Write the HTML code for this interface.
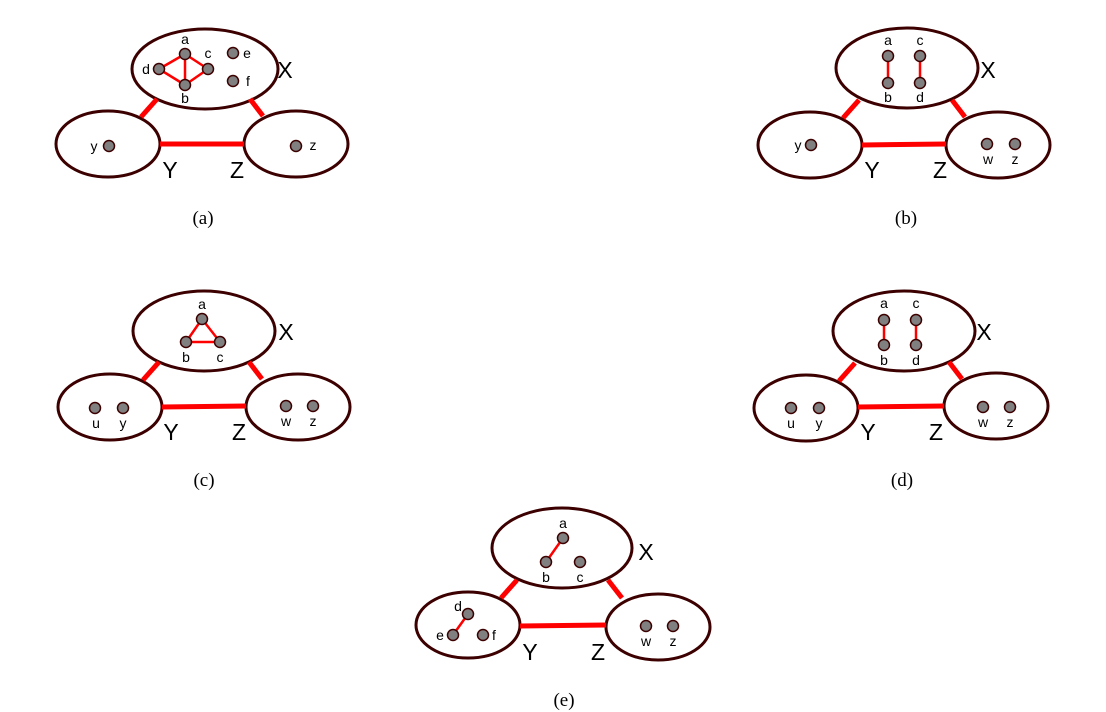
<!DOCTYPE html>
<html><head><style>body{margin:0;background:#fff}svg{display:block}</style></head><body>
<svg width="1106" height="712" viewBox="0 0 1106 712" xmlns="http://www.w3.org/2000/svg" font-family="Liberation Sans, sans-serif">
<g fill="#fff" stroke="#3c0000" stroke-width="3">
<ellipse cx="205" cy="69" rx="73" ry="40"/><ellipse cx="108" cy="144" rx="52" ry="33"/><ellipse cx="296" cy="144" rx="52" ry="33"/>
<ellipse cx="907" cy="68" rx="71" ry="40"/><ellipse cx="810" cy="145" rx="52" ry="33"/><ellipse cx="998" cy="145" rx="52" ry="33"/>
<ellipse cx="204" cy="331" rx="71" ry="40"/><ellipse cx="110" cy="407" rx="52" ry="33"/><ellipse cx="298" cy="407" rx="52" ry="33"/>
<ellipse cx="904" cy="331" rx="71" ry="40"/><ellipse cx="806" cy="408" rx="52" ry="33"/><ellipse cx="996" cy="406" rx="52" ry="33"/>
<ellipse cx="562" cy="548" rx="70" ry="40"/><ellipse cx="468" cy="625" rx="52" ry="33"/><ellipse cx="658" cy="627" rx="52" ry="33"/>
</g>
<g stroke="#f00" stroke-width="5">
<line x1="141" y1="117" x2="157" y2="99"/><line x1="250" y1="99" x2="263" y2="116"/><line x1="160" y1="144" x2="244" y2="144"/>
<line x1="843" y1="118" x2="859" y2="100"/><line x1="952" y1="100" x2="965" y2="117"/><line x1="862" y1="145" x2="946" y2="144"/>
<line x1="143" y1="380" x2="159" y2="362"/><line x1="249" y1="362" x2="262" y2="379"/><line x1="162" y1="407" x2="246" y2="406"/>
<line x1="839" y1="381" x2="855" y2="363"/><line x1="949" y1="362" x2="962" y2="379"/><line x1="858" y1="407" x2="944" y2="406"/>
<line x1="501" y1="598" x2="517" y2="580"/><line x1="608" y1="580" x2="622" y2="598"/><line x1="520" y1="626" x2="606" y2="625"/>
</g>
<g stroke="#f00" stroke-width="2.5">
<line x1="159" y1="69" x2="185" y2="54"/><line x1="159" y1="69" x2="185" y2="85"/><line x1="185" y1="54" x2="185" y2="85"/><line x1="185" y1="54" x2="208" y2="69"/><line x1="208" y1="69" x2="185" y2="85"/>
<line x1="888" y1="56" x2="888" y2="83"/><line x1="920" y1="56" x2="920" y2="83"/>
<line x1="202" y1="319" x2="186" y2="342"/><line x1="202" y1="319" x2="220" y2="342"/><line x1="186" y1="342" x2="220" y2="342"/>
<line x1="884" y1="320" x2="884" y2="345"/><line x1="916" y1="320" x2="916" y2="345"/>
<line x1="563" y1="538" x2="546" y2="562"/><line x1="468" y1="614" x2="453" y2="635"/>
</g>
<g fill="#808080" stroke="#3c0000" stroke-width="1.5">
<circle cx="185" cy="54" r="5.5"/><circle cx="208" cy="69" r="5.5"/><circle cx="159" cy="69" r="5.5"/><circle cx="185" cy="85" r="5.5"/><circle cx="233" cy="53" r="5.5"/><circle cx="233" cy="81" r="5.5"/><circle cx="109" cy="146" r="5.5"/><circle cx="296" cy="146" r="5.5"/>
<circle cx="888" cy="56" r="5.5"/><circle cx="888" cy="83" r="5.5"/><circle cx="920" cy="56" r="5.5"/><circle cx="920" cy="83" r="5.5"/><circle cx="811" cy="145" r="5.5"/><circle cx="987" cy="144" r="5.5"/><circle cx="1015" cy="144" r="5.5"/>
<circle cx="202" cy="319" r="5.5"/><circle cx="186" cy="342" r="5.5"/><circle cx="220" cy="342" r="5.5"/><circle cx="95" cy="408" r="5.5"/><circle cx="123" cy="408" r="5.5"/><circle cx="286" cy="406" r="5.5"/><circle cx="313" cy="406" r="5.5"/>
<circle cx="884" cy="320" r="5.5"/><circle cx="884" cy="345" r="5.5"/><circle cx="916" cy="320" r="5.5"/><circle cx="916" cy="345" r="5.5"/><circle cx="791" cy="408" r="5.5"/><circle cx="819" cy="408" r="5.5"/><circle cx="983" cy="407" r="5.5"/><circle cx="1010" cy="407" r="5.5"/>
<circle cx="563" cy="538" r="5.5"/><circle cx="546" cy="562" r="5.5"/><circle cx="580" cy="562" r="5.5"/><circle cx="468" cy="614" r="5.5"/><circle cx="453" cy="635" r="5.5"/><circle cx="483" cy="635" r="5.5"/><circle cx="646" cy="626" r="5.5"/><circle cx="673" cy="626" r="5.5"/>
</g>
<g font-size="14" fill="#000" text-anchor="middle">
<text x="185" y="44">a</text><text x="208" y="58">c</text><text x="146" y="74">d</text><text x="185" y="103">b</text><text x="247" y="58">e</text><text x="248" y="86">f</text><text x="94" y="151">y</text><text x="313" y="150">z</text>
<text x="888" y="45">a</text><text x="920" y="45">c</text><text x="888" y="102">b</text><text x="920" y="102">d</text><text x="798" y="150">y</text><text x="988" y="164">w</text><text x="1015" y="164">z</text>
<text x="202" y="309">a</text><text x="186" y="362">b</text><text x="220" y="362">c</text><text x="96" y="428">u</text><text x="123" y="428">y</text><text x="286" y="426">w</text><text x="313" y="426">z</text>
<text x="884" y="308">a</text><text x="916" y="308">c</text><text x="884" y="365">b</text><text x="916" y="365">d</text><text x="791" y="428">u</text><text x="819" y="428">y</text><text x="983" y="427">w</text><text x="1010" y="427">z</text>
<text x="563" y="528">a</text><text x="546" y="582">b</text><text x="580" y="582">c</text><text x="458" y="611">d</text><text x="440" y="640">e</text><text x="494" y="640">f</text><text x="646" y="646">w</text><text x="673" y="646">z</text>
</g>
<g font-size="23" fill="#000" text-anchor="middle">
<text x="285" y="78">X</text><text x="170" y="178">Y</text><text x="237" y="178">Z</text>
<text x="988" y="78">X</text><text x="872" y="178">Y</text><text x="940" y="178">Z</text>
<text x="286" y="340">X</text><text x="171" y="440">Y</text><text x="239" y="440">Z</text>
<text x="984" y="340">X</text><text x="868" y="440">Y</text><text x="936" y="440">Z</text>
<text x="646" y="560">X</text><text x="530" y="660">Y</text><text x="598" y="660">Z</text>
</g>
<g font-family="Liberation Serif, serif" font-size="19" fill="#000" text-anchor="middle">
<text x="203" y="224">(a)</text><text x="906" y="224">(b)</text><text x="204" y="486">(c)</text><text x="902" y="486">(d)</text><text x="564" y="706">(e)</text>
</g>
</svg>
</body></html>
